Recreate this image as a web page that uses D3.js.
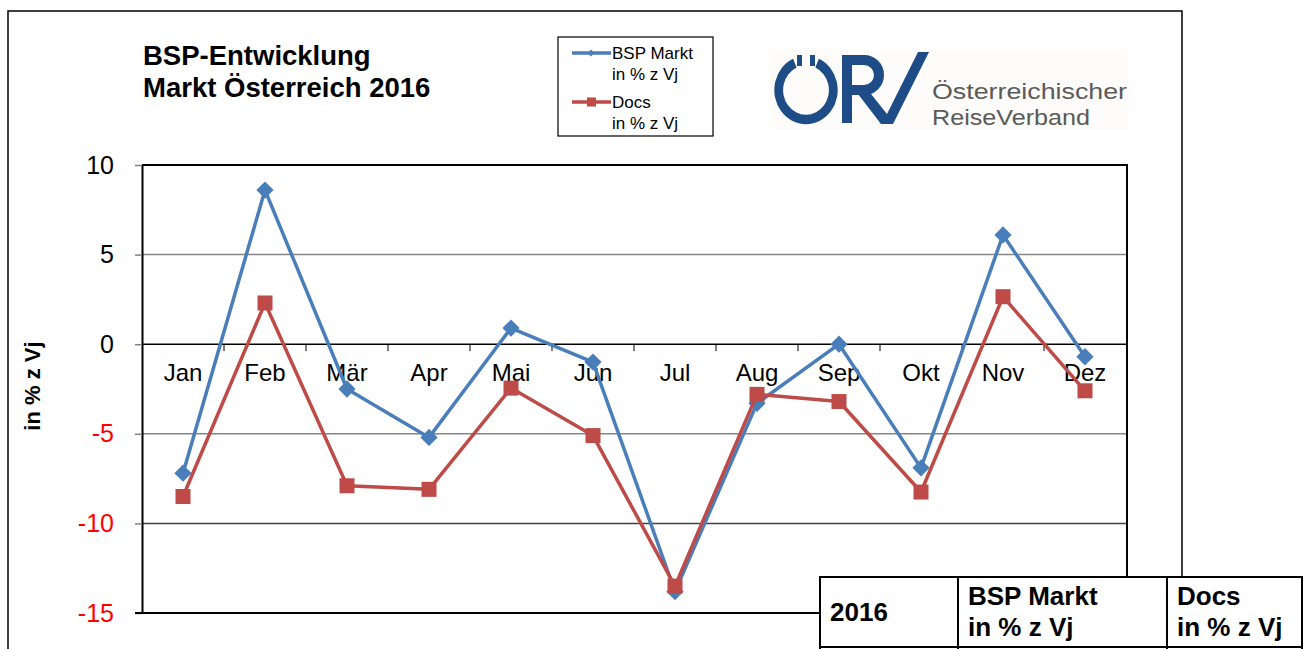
<!DOCTYPE html>
<html>
<head>
<meta charset="utf-8">
<script src="https://cdnjs.cloudflare.com/ajax/libs/d3/7.8.5/d3.min.js"></script>
<style>
  body { margin: 0; background: #fff; }
  svg { display: block; font-family: "Liberation Sans", Arial, sans-serif; }
</style>
</head>
<body>
<svg width="1304" height="649"></svg>
<script>
"use strict"
// data
const months = ["Jan", "Feb", "Mär", "Apr", "Mai", "Jun", "Jul", "Aug", "Sep", "Okt", "Nov", "Dez"]
const bspMarkt = [-7.2, 8.6, -2.5, -5.2, 0.9, -1.0, -13.8, -3.3, 0.0, -6.9, 6.1, -0.7]
const docs = [-8.5, 2.3, -7.9, -8.1, -2.45, -5.1, -13.5, -2.8, -3.2, -8.25, 2.65, -2.6]
const yTicks = [10, 5, 0, -5, -10, -15]

const blue = "#4a7ebb", red = "#be4b48"

let svg = d3.select("svg")

// outer frame
svg.append("path")
  .attr("d", "M8,660 V11 H1182 V580")
  .attr("fill", "none").attr("stroke", "#000").attr("stroke-width", 1.5)

let x = d3.scaleBand().domain(months).range([142, 1126]).padding(0)
let y = d3.scaleLinear().domain([-15, 10]).range([613, 165])

// gridlines
svg.append("g").selectAll("line")
  .data([5, -5, -10])
  .enter().append("line")
    .attr("x1", 142).attr("x2", 1127)
    .attr("y1", d => y(d)).attr("y2", d => y(d))
    .attr("stroke", d => d == -10 ? "#404040" : "#868686")
    .attr("stroke-width", 1.5)

// plot border top/right
svg.append("path")
  .attr("d", `M142,${y(10)} H1127 V${y(-15)}`)
  .attr("fill", "none").attr("stroke", "#000").attr("stroke-width", 2)

// y axis
let yAxis = svg.append("g")
  .attr("transform", "translate(142,0)")
  .call(d3.axisLeft(y).tickValues(yTicks).tickFormat(d => String(d))
    .tickSize(7).tickPadding(21).tickSizeOuter(0))
yAxis.select(".domain").attr("stroke", "#000").attr("stroke-width", 2)
yAxis.selectAll(".tick line").attr("stroke", "#808080").attr("stroke-width", 1.5)
yAxis.selectAll(".tick text")
  .attr("font-size", 25)
  .attr("font-family", "Liberation Sans, Arial, sans-serif")
  .attr("fill", d => d < 0 ? "#ff0000" : "#000")

// bottom border
svg.append("line")
  .attr("x1", 135).attr("x2", 1127)
  .attr("y1", y(-15)).attr("y2", y(-15))
  .attr("stroke", "#000").attr("stroke-width", 2)

// zero line with category ticks
svg.append("line")
  .attr("x1", 142).attr("x2", 1127)
  .attr("y1", y(0)).attr("y2", y(0))
  .attr("stroke", "#000").attr("stroke-width", 1.5)
svg.append("g").selectAll("line")
  .data(months.slice(1))
  .enter().append("line")
    .attr("x1", d => x(d)).attr("x2", d => x(d))
    .attr("y1", y(0)).attr("y2", y(0) + 7)
    .attr("stroke", "#000").attr("stroke-width", 1)

// month labels
svg.append("g").selectAll("text")
  .data(months)
  .enter().append("text")
    .attr("x", d => x(d) + x.bandwidth() / 2)
    .attr("y", y(0) + 37)
    .attr("text-anchor", "middle")
    .attr("font-size", 24)
    .text(d => d)

// y axis title
svg.append("text")
  .attr("transform", "translate(40,386) rotate(-90)")
  .attr("text-anchor", "middle")
  .attr("font-size", 22).attr("font-weight", "bold")
  .text("in % z Vj")

// series
let line = d3.line()
  .x((d, i) => x(months[i]) + x.bandwidth() / 2)
  .y(d => y(d))

svg.append("path").datum(bspMarkt)
  .attr("d", line).attr("fill", "none")
  .attr("stroke", blue).attr("stroke-width", 3.5).attr("stroke-linejoin", "round")
svg.append("g").selectAll("path")
  .data(bspMarkt)
  .enter().append("path")
    .attr("d", d3.symbol(d3.symbolDiamond2, 190))
    .attr("transform", (d, i) => `translate(${x(months[i]) + x.bandwidth() / 2},${y(d)})`)
    .attr("fill", blue)

svg.append("path").datum(docs)
  .attr("d", line).attr("fill", "none")
  .attr("stroke", red).attr("stroke-width", 3.5).attr("stroke-linejoin", "round")
svg.append("g").selectAll("rect")
  .data(docs)
  .enter().append("rect")
    .attr("x", (d, i) => x(months[i]) + x.bandwidth() / 2 - 7.5)
    .attr("y", d => y(d) - 7.5)
    .attr("width", 15).attr("height", 15)
    .attr("fill", red)

// title
let title = svg.append("text")
  .attr("x", 143).attr("font-size", 27.5).attr("font-weight", "bold")
title.append("tspan").attr("x", 143).attr("y", 65).text("BSP-Entwicklung")
title.append("tspan").attr("x", 143).attr("y", 97).text("Markt Österreich 2016")

// legend
let legend = svg.append("g")
legend.append("rect")
  .attr("x", 558).attr("y", 37).attr("width", 155).attr("height", 99)
  .attr("fill", "#fff").attr("stroke", "#000").attr("stroke-width", 1.2)
let legendItems = [
  {label: "BSP Markt", color: blue, y: 53, mark: "diamond"},
  {label: "Docs", color: red, y: 102, mark: "square"}
]
legendItems.forEach(it => {
  legend.append("line")
    .attr("x1", 572).attr("x2", 611).attr("y1", it.y).attr("y2", it.y)
    .attr("stroke", it.color).attr("stroke-width", 3.5)
  if (it.mark == "diamond") {
    legend.append("path")
      .attr("d", d3.symbol(d3.symbolDiamond2, 30))
      .attr("transform", `translate(591,${it.y})`)
      .attr("fill", it.color)
  } else {
    legend.append("rect")
      .attr("x", 587).attr("y", it.y - 4.5).attr("width", 9).attr("height", 9)
      .attr("fill", it.color)
  }
  let t = legend.append("text").attr("font-size", 17)
  t.append("tspan").attr("x", 612).attr("y", it.y + 6).text(it.label)
  t.append("tspan").attr("x", 612).attr("y", it.y + 27).text("in % z Vj")
})

// logo
let logo = svg.append("g")
logo.append("rect").attr("x", 770).attr("y", 50).attr("width", 358).attr("height", 80).attr("fill", "#fdfcfa")
const navy = "#1e4c86"
let ring = d3.arc().innerRadius(26).outerRadius(36)
  .startAngle(0.42).endAngle(2 * Math.PI - 0.42)
logo.append("path")
  .attr("d", ring())
  .attr("transform", "translate(806,90) scale(0.88,0.95)")
  .attr("fill", navy)
logo.append("rect").attr("x", 797).attr("y", 55).attr("width", 5).attr("height", 11).attr("fill", navy)
logo.append("rect").attr("x", 810).attr("y", 55).attr("width", 5).attr("height", 11).attr("fill", navy)
logo.append("rect").attr("x", 842).attr("y", 55).attr("width", 10).attr("height", 68).attr("fill", navy)
logo.append("path")
  .attr("d", "M847,60 H864 A15,15 0 0 1 864,90 H852")
  .attr("fill", "none").attr("stroke", navy).attr("stroke-width", 10)
logo.append("path")
  .attr("d", "M858,94 L871,94 L887,114 L918,52 L929,52 L893,124 L881,124 Z")
  .attr("fill", navy)
let logoLines = [{t: "Österreichischer", y: 99, w: 195}, {t: "ReiseVerband", y: 125, w: 158}]
logoLines.forEach(l => {
  logo.append("text")
    .attr("x", 932).attr("y", l.y)
    .attr("font-size", 22).attr("fill", "#5a5a5a")
    .attr("textLength", l.w).attr("lengthAdjust", "spacingAndGlyphs")
    .text(l.t)
})

// table header
let table = svg.append("g")
table.append("rect")
  .attr("x", 820).attr("y", 577).attr("width", 482).attr("height", 90)
  .attr("fill", "#fff").attr("stroke", "#000").attr("stroke-width", 2)
table.selectAll("line.col")
  .data([958, 1167])
  .enter().append("line")
    .attr("x1", d => d).attr("x2", d => d)
    .attr("y1", 577).attr("y2", 660)
    .attr("stroke", "#000").attr("stroke-width", 2)
table.append("line")
  .attr("x1", 820).attr("x2", 1302).attr("y1", 647).attr("y2", 647)
  .attr("stroke", "#000").attr("stroke-width", 2)
table.append("text").attr("x", 830).attr("y", 621)
  .attr("font-size", 26).attr("font-weight", "bold").text("2016")
let headers = [{x: 968, a: "BSP Markt"}, {x: 1177, a: "Docs"}]
headers.forEach(h => {
  let t = table.append("text").attr("font-size", 26).attr("font-weight", "bold")
  t.append("tspan").attr("x", h.x).attr("y", 605).text(h.a)
  t.append("tspan").attr("x", h.x).attr("y", 636).text("in % z Vj")
})
</script>
</body>
</html>
